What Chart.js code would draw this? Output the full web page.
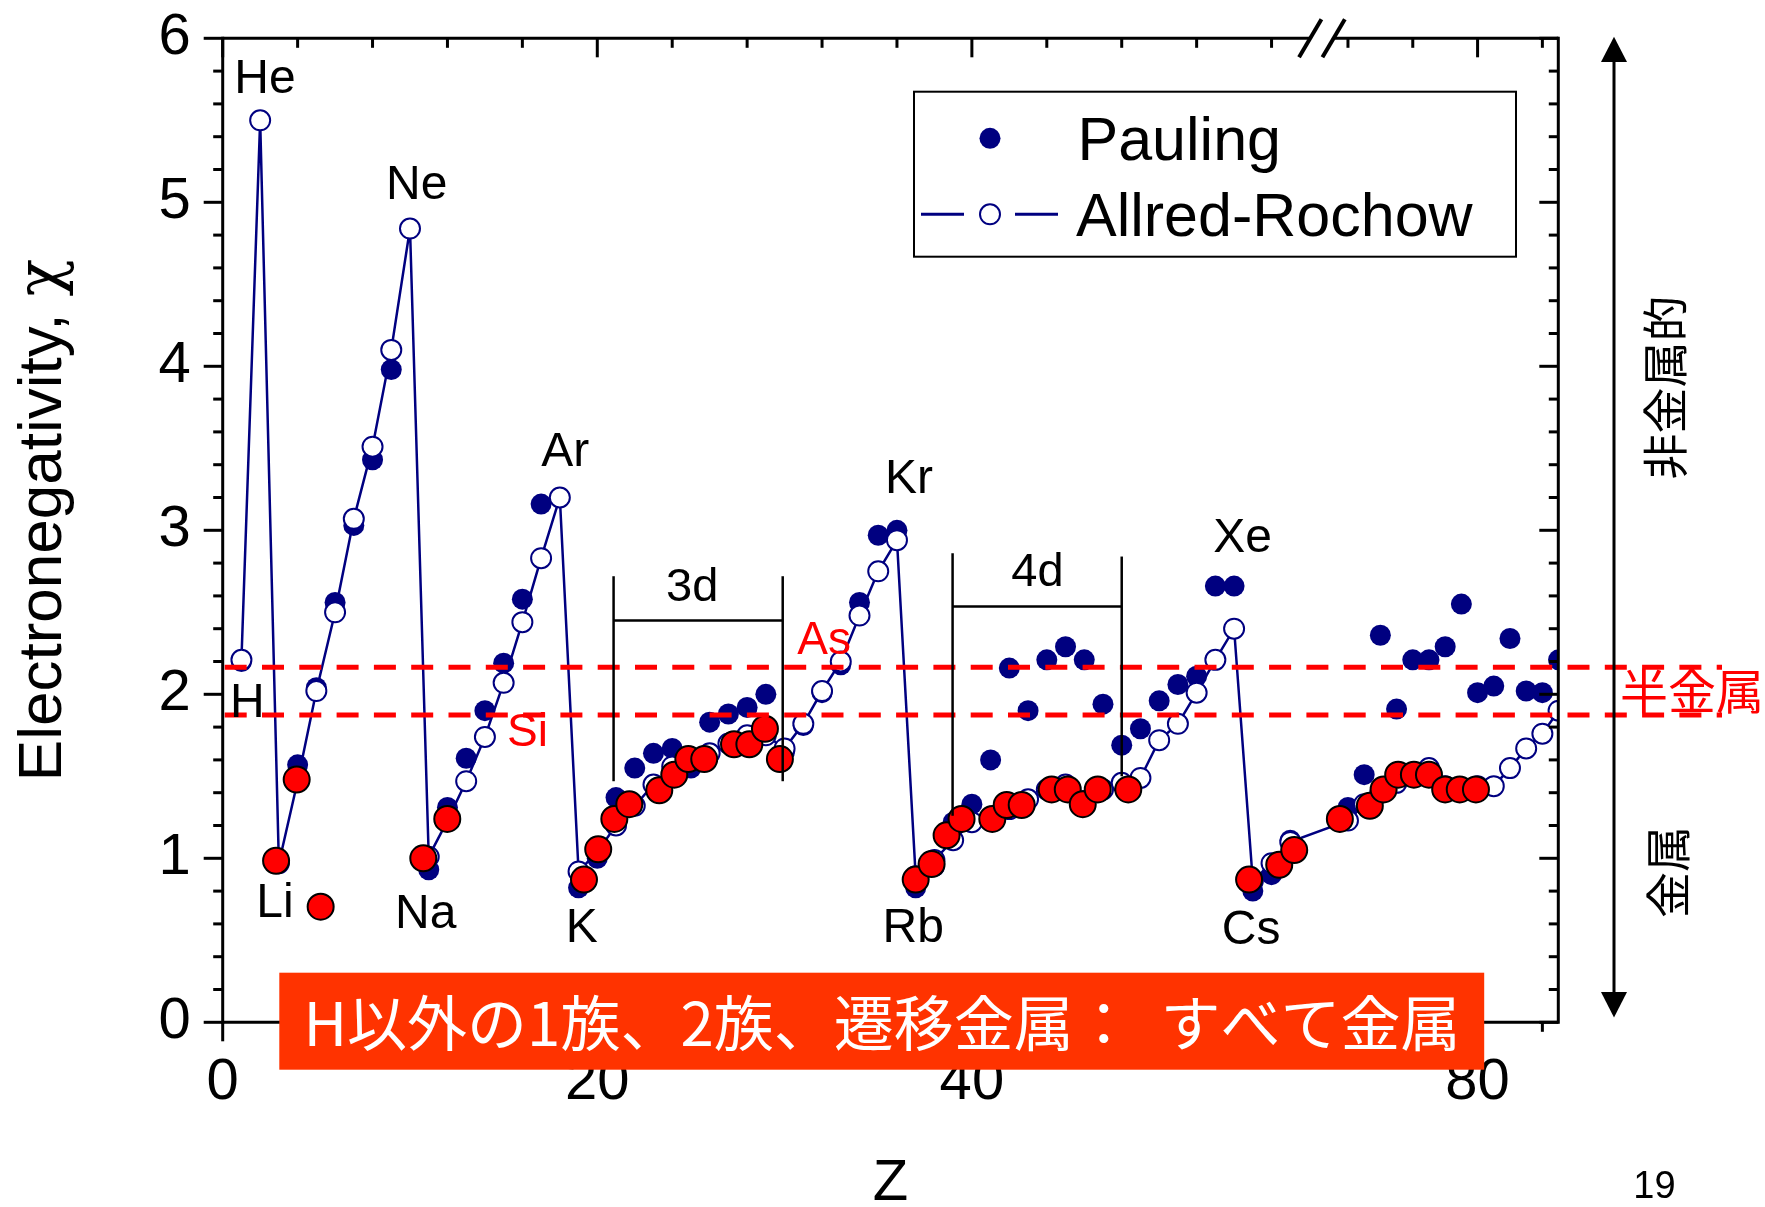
<!DOCTYPE html>
<html>
<head>
<meta charset="utf-8">
<script src="https://cdn.jsdelivr.net/npm/chart.js@4.4.0/dist/chart.umd.min.js"></script>
<style>
  html, body { margin: 0; padding: 0; background: #fff; }
  canvas { display: block; }
</style>
</head>
<body>
<canvas id="enChart" width="1765" height="1207"></canvas>
<script>
// Atomic number Z and electronegativity
const zPauling = [1, 3, 4, 5, 6, 7, 8, 9,
  11, 12, 13, 14, 15, 16, 17,
  19, 20, 21, 22, 23, 24, 25, 26, 27, 28, 29, 30, 31, 32, 33, 34, 35, 36,
  37, 38, 39, 40, 41, 42, 43, 44, 45, 46, 47, 48, 49, 50, 51, 52, 53, 54, 55, 56, 57,
  72, 73, 74, 75, 76, 77, 78, 79, 80, 81, 82, 83, 84, 85];
const chiPauling = [2.20, 0.98, 1.57, 2.04, 2.56, 3.03, 3.43, 3.98,
  0.93, 1.31, 1.61, 1.90, 2.19, 2.58, 3.16,
  0.82, 1.00, 1.37, 1.55, 1.64, 1.67, 1.55, 1.83, 1.88, 1.92, 2.00, 1.65, 1.81, 2.01, 2.18, 2.56, 2.97, 3.00,
  0.82, 0.95, 1.22, 1.33, 1.60, 2.16, 1.90, 2.21, 2.29, 2.21, 1.94, 1.69, 1.79, 1.96, 2.06, 2.11, 2.66, 2.66, 0.80, 0.90, 1.11,
  1.31, 1.51, 2.36, 1.91, 2.21, 2.21, 2.29, 2.55, 2.01, 2.05, 2.34, 2.02, 2.01, 2.21];

const zAllred = [1, 2, 3, 4, 5, 6, 7, 8, 9, 10,
  11, 12, 13, 14, 15, 16, 17, 18,
  19, 20, 21, 22, 23, 24, 25, 26, 27, 28, 29, 30, 31, 32, 33, 34, 35, 36,
  37, 38, 39, 40, 41, 42, 43, 44, 45, 46, 47, 48, 49, 50, 51, 52, 53, 54,
  55, 56, 57,
  72, 73, 74, 75, 76, 77, 78, 79, 80, 81, 82, 83, 84, 85];
const chiAllred = [2.21, 5.50, 0.97, 1.47, 2.02, 2.50, 3.07, 3.51, 4.10, 4.84,
  1.01, 1.23, 1.47, 1.74, 2.07, 2.44, 2.83, 3.20,
  0.92, 1.04, 1.20, 1.32, 1.45, 1.56, 1.60, 1.64, 1.70, 1.75, 1.75, 1.67, 1.82, 2.02, 2.20, 2.48, 2.75, 2.94,
  0.89, 0.99, 1.11, 1.22, 1.23, 1.30, 1.36, 1.42, 1.45, 1.35, 1.42, 1.46, 1.49, 1.72, 1.82, 2.01, 2.21, 2.40,
  0.86, 0.97, 1.10,
  1.23, 1.33, 1.40, 1.46, 1.52, 1.55, 1.44, 1.42, 1.44, 1.44, 1.55, 1.67, 1.76, 1.90];

// red "metal" markers laid over the plot
const zMetal = [2.85, 3.95, 5.23, 10.71, 11.99, 19.29, 20.05,
  20.91, 21.71, 23.31, 24.11, 24.86, 25.71, 27.3, 28.12, 28.95, 29.75,
  37.0, 37.85, 38.65, 39.45, 41.09, 41.86, 42.66, 44.26, 45.12, 45.92, 46.72, 48.35,
  54.8, 56.41, 57.21,
  71.5, 73.35, 74.2, 75.1, 76.07, 77.0, 78.0, 78.9, 79.9];
const chiMetal = [0.985, 1.48, 0.705, 1.00, 1.24, 0.87, 1.055,
  1.24, 1.33, 1.415, 1.51, 1.605, 1.605, 1.695, 1.695, 1.79, 1.605,
  0.87, 0.965, 1.14, 1.24, 1.24, 1.325, 1.325, 1.42, 1.42, 1.33, 1.42, 1.42,
  0.87, 0.96, 1.05,
  1.24, 1.32, 1.42, 1.51, 1.51, 1.51, 1.42, 1.42, 1.42];

const xTickZ = [0, 20, 40, 80];
const xTickLabels = ['0', '20', '40', '80'];
const xMinorTickZ = [4, 8, 12, 16, 24, 28, 32, 36, 44, 48, 52, 56, 72, 76, 84];
const yTickValues = [0, 1, 2, 3, 4, 5, 6];
const metalloidBand = [2.165, 1.874];

const elementTags = [['He', 2.26, 5.75], ['Ne', 10.36, 5.10], ['Ar', 18.29, 3.474],
  ['Kr', 36.64, 3.31], ['Xe', 54.45, 2.946], ['H', 1.32, 1.945], ['Li', 2.79, 0.721],
  ['Na', 10.84, 0.655], ['K', 19.17, 0.569], ['Rb', 36.87, 0.573], ['Cs', 54.91, 0.56]];
const redTags = [['As', 32.11, 2.326], ['Si', 16.27, 1.762]];
const dBlocks = [
  { name: '3d', from: 20.87, to: 29.9, top: [2.72, 2.72], bottom: [1.47, 1.47], bar: 2.45, label: [25.07, 2.646] },
  { name: '4d', from: 38.97, to: 48.0, top: [2.86, 2.84], bottom: [1.26, 1.50], bar: 2.535, label: [43.5, 2.74] }
];

// x axis has a break between La and Hf: the part after it is squeezed a bit
const BREAK_JOIN_Z = 80, BREAK_JOIN_U = 67.0, BREAK_SQUEEZE = 0.865;
const BREAK_U = 58.69, X_MAX_U = 71.31;
function zToU(z) { return z < 65 ? z : BREAK_JOIN_U + (z - BREAK_JOIN_Z) * BREAK_SQUEEZE; }
const pts = (zs, ys) => zs.map((z, i) => ({ x: zToU(z), y: ys[i] }));

const NAVY = '#000080';
const RED = '#ff0000';
const FONT = '"Liberation Sans", Arial, sans-serif';
const JFONT = '"Noto Sans CJK JP", sans-serif';

function seg(ctx, x1, y1, x2, y2) {
  ctx.beginPath(); ctx.moveTo(x1, y1); ctx.lineTo(x2, y2); ctx.stroke();
}

const decorPlugin = {
  id: 'decor',
  afterDatasetsDraw(chart) {
    const { ctx, chartArea: a, scales: { x, y } } = chart;
    const px = z => x.getPixelForValue(zToU(z));
    ctx.save();
    // metalloid band (dashed red lines run past the frame)
    ctx.strokeStyle = RED; ctx.lineWidth = 5; ctx.setLineDash([22, 15.3]);
    metalloidBand.forEach(v => {
      const py = y.getPixelForValue(v);
      seg(ctx, a.left + 2, py, 1722, py);
    });
    ctx.setLineDash([]);
    // 3d / 4d brackets
    ctx.strokeStyle = '#000'; ctx.lineWidth = 2.5;
    ctx.fillStyle = '#000';
    ctx.font = '47px ' + FONT; ctx.textAlign = 'center'; ctx.textBaseline = 'middle';
    dBlocks.forEach(b => {
      const x1 = px(b.from), x2 = px(b.to);
      seg(ctx, x1, y.getPixelForValue(b.top[0]), x1, y.getPixelForValue(b.bottom[0]));
      seg(ctx, x2, y.getPixelForValue(b.top[1]), x2, y.getPixelForValue(b.bottom[1]));
      seg(ctx, x1, y.getPixelForValue(b.bar), x2, y.getPixelForValue(b.bar));
      ctx.fillText(b.name, px(b.label[0]), y.getPixelForValue(b.label[1]));
    });
    ctx.font = '48px ' + FONT;
    elementTags.forEach(([t, z, v]) => ctx.fillText(t, px(z), y.getPixelForValue(v)));
    ctx.fillStyle = RED; ctx.font = '46px ' + FONT;
    redTags.forEach(([t, z, v]) => ctx.fillText(t, px(z), y.getPixelForValue(v)));
    ctx.restore();
  },
  afterDraw(chart) {
    const { ctx, chartArea: a, scales: { x, y } } = chart;
    const MAJOR = 19, MINOR = 9.5;
    ctx.save();
    ctx.strokeStyle = '#000'; ctx.fillStyle = '#000'; ctx.lineWidth = 3;

    // tick marks: left/bottom outward, right/top inward
    for (let i = 0; i <= 30; i++) {
      const py = y.getPixelForValue(i / 5), len = i % 5 === 0 ? MAJOR : MINOR;
      seg(ctx, a.left - len, py, a.left, py);
      seg(ctx, a.right - len, py, a.right, py);
    }
    const xTicks = xTickZ.map(z => [z, MAJOR]).concat(xMinorTickZ.map(z => [z, MINOR]));
    xTicks.forEach(([z, len]) => {
      const p = x.getPixelForValue(zToU(z));
      seg(ctx, p, a.bottom, p, a.bottom + len);
      seg(ctx, p, a.top, p, a.top + len);
    });

    // frame with the break on the top axis
    const xb = x.getPixelForValue(BREAK_U), gap = 11.7;
    seg(ctx, a.left, a.top - 1.5, a.left, a.bottom + 1.5);
    seg(ctx, a.right, a.top - 1.5, a.right, a.bottom + 1.5);
    seg(ctx, a.left, a.bottom, a.right, a.bottom);
    seg(ctx, a.left, a.top, xb - gap, a.top);
    seg(ctx, xb + gap, a.top, a.right, a.top);
    ctx.lineWidth = 4;
    [xb - gap, xb + gap].forEach(c => seg(ctx, c - 11.2, a.top + 19, c + 11.2, a.top - 19));

    // legend
    ctx.lineWidth = 2;
    ctx.strokeRect(914, 91.7, 602, 165);
    ctx.fillStyle = NAVY;
    ctx.beginPath(); ctx.arc(990, 138.3, 10.5, 0, Math.PI * 2); ctx.fill();
    ctx.strokeStyle = NAVY; ctx.lineWidth = 3;
    seg(ctx, 921, 214.3, 964, 214.3);
    seg(ctx, 1015, 214.3, 1058, 214.3);
    ctx.lineWidth = 2; ctx.fillStyle = '#fff';
    ctx.beginPath(); ctx.arc(990, 214.3, 10, 0, Math.PI * 2); ctx.fill(); ctx.stroke();
    ctx.fillStyle = '#000'; ctx.font = '61px ' + FONT;
    ctx.textAlign = 'left'; ctx.textBaseline = 'alphabetic';
    ctx.fillText('Pauling', 1077.5, 160);
    ctx.fillText('Allred-Rochow', 1076, 236);

    // y axis title, chi in a font with a curly glyph
    ctx.save();
    ctx.translate(44, 520); ctx.rotate(-Math.PI / 2);
    ctx.textBaseline = 'middle'; ctx.textAlign = 'left';
    const head = 'Electronegativity, ';
    ctx.font = '62px ' + FONT;
    const w1 = ctx.measureText(head).width;
    ctx.font = '62px "DejaVu Serif", serif';
    const w2 = ctx.measureText('χ').width;
    ctx.font = '62px ' + FONT;
    ctx.fillText(head, -(w1 + w2) / 2, 0);
    ctx.font = '62px "DejaVu Serif", serif';
    ctx.fillText('χ', -(w1 + w2) / 2 + w1, 0);
    ctx.restore();

    // double arrow on the right
    ctx.strokeStyle = '#000'; ctx.lineWidth = 3;
    seg(ctx, 1614, 55, 1614, 1000);
    ctx.beginPath(); ctx.moveTo(1614, 36.7); ctx.lineTo(1601, 62); ctx.lineTo(1627, 62); ctx.closePath(); ctx.fill();
    ctx.beginPath(); ctx.moveTo(1614, 1017.5); ctx.lineTo(1601, 992); ctx.lineTo(1627, 992); ctx.closePath(); ctx.fill();
    ctx.font = '46px ' + JFONT; ctx.textAlign = 'center'; ctx.textBaseline = 'middle';
    [['非金属的', 1665, 387.5], ['金属', 1668, 872]].forEach(([t, cx, cy]) => {
      ctx.save(); ctx.translate(cx, cy); ctx.rotate(-Math.PI / 2); ctx.fillText(t, 0, 0); ctx.restore();
    });
    ctx.fillStyle = RED; ctx.font = '48px ' + JFONT;
    ctx.fillText('半金属', 1692, 690.5);

    // banner
    ctx.fillStyle = '#ff3300';
    ctx.fillRect(279.3, 972.7, 1204.9, 97);
    ctx.fillStyle = '#fff'; ctx.font = '60px ' + JFONT;
    ctx.fillText('H以外の1族、2族、遷移金属：  すべて金属', 882, 1023.5);

    ctx.fillStyle = '#000'; ctx.font = '38px ' + FONT;
    ctx.fillText('19', 1654.5, 1188);
    ctx.restore();
  }
};

new Chart(document.getElementById('enChart'), {
  type: 'scatter',
  data: {
    datasets: [{
      label: 'Metal',
      data: pts(zMetal, chiMetal),
      order: 0,
      pointRadius: 13,
      pointBackgroundColor: RED,
      pointBorderColor: '#000',
      pointBorderWidth: 2,
      clip: 0
    }, {
      label: 'Allred-Rochow',
      data: pts(zAllred, chiAllred),
      order: 1,
      showLine: true,
      borderColor: NAVY,
      borderWidth: 2.5,
      pointRadius: 10,
      pointBackgroundColor: '#fff',
      pointBorderColor: NAVY,
      pointBorderWidth: 2,
      clip: 0
    }, {
      label: 'Pauling',
      data: pts(zPauling, chiPauling),
      order: 2,
      pointRadius: 10.5,
      pointBackgroundColor: NAVY,
      pointBorderWidth: 0,
      clip: 0
    }]
  },
  options: {
    responsive: false,
    animation: false,
    devicePixelRatio: 1,
    events: [],
    layout: { padding: { top: 38.3, right: 206.7, left: 0, bottom: 0 } },
    plugins: { legend: { display: false }, tooltip: { enabled: false } },
    scales: {
      x: {
        type: 'linear', min: 0, max: X_MAX_U,
        grid: { display: false, drawTicks: false },
        border: { display: false },
        afterBuildTicks: s => { s.ticks = xTickZ.map(z => ({ value: zToU(z) })); },
        afterFit: s => { s.height = 184.7; s.paddingLeft = 0; s.paddingRight = 0; },
        ticks: {
          autoSkip: false, maxRotation: 0, padding: 26, color: '#000',
          font: { family: FONT, size: 58 },
          callback: (v, i) => xTickLabels[i]
        },
        title: { display: true, text: 'Z', color: '#000', padding: 0, font: { family: FONT, size: 58, lineHeight: 0.8 } }
      },
      y: {
        type: 'linear', min: 0, max: 6,
        grid: { display: false, drawTicks: false },
        border: { display: false },
        afterBuildTicks: s => { s.ticks = yTickValues.map(v => ({ value: v })); },
        afterFit: s => { s.width = 222.7; s.paddingTop = 0; s.paddingBottom = 0; },
        ticks: { padding: 32, color: '#000', font: { family: FONT, size: 58 }, callback: v => String(v) }
      }
    }
  },
  plugins: [decorPlugin]
});
</script>
</body>
</html>
